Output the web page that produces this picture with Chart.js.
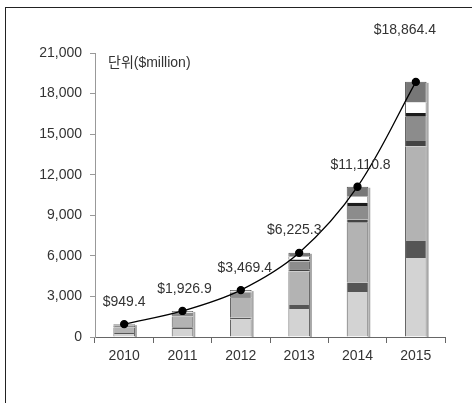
<!DOCTYPE html>
<html>
<head>
<meta charset="utf-8">
<script src="https://cdn.jsdelivr.net/npm/chart.js@4.4.1/dist/chart.umd.min.js"></script>
<style>
  html, body { margin: 0; padding: 0; background: #fff; overflow: hidden; }
  #wrap { position: relative; width: 472px; height: 403px; }
  #frame { position: absolute; left: 5px; top: 7px; width: 520px; height: 460px; border: 1px solid #222; }
  canvas { position: absolute; left: 0; top: 0; }
</style>
</head>
<body>
<div id="wrap">
  <div id="frame"></div>
  <canvas id="chart" width="472" height="403"></canvas>
</div>
<script>
const years = ['2010', '2011', '2012', '2013', '2014', '2015'];
// stacked layers, bottom to top
const layer1 = [230, 600, 1300, 2075, 3334, 5844];
const layer2 = [60, 120, 125, 296, 690, 1253];
const layer3 = [420, 770, 1450, 2495, 4420, 7000];
const layer4 = [30, 40, 60, 148, 247, 398];
const layer5 = [120, 250, 380, 593, 988, 1791];
const layer6 = [10, 20, 30, 124, 247, 273];
const layer7 = [20, 30, 40, 198, 445, 781];
const layer8 = [59, 97, 84, 296, 740, 1525];
const totals = [949.4, 1926.9, 3469.4, 6225.3, 11110.8, 18864.4];
const yTicks = [0, 3000, 6000, 9000, 12000, 15000, 18000, 21000];

const layers = [layer1, layer2, layer3, layer4, layer5, layer6, layer7, layer8];
const colors = ['#d3d3d3', '#555555', '#b3b3b3', '#444444', '#8c8c8c', '#1c1c1c', '#ffffff', '#777777'];

const FONT = '"Liberation Sans", "Noto Sans CJK KR", sans-serif';

const barSets = layers.map((d, i) => ({
    type: 'bar',
    data: d,
    backgroundColor: colors[i],
    borderColor: '#5a5a5a',
    borderWidth: i === layers.length - 1 ? { left: 1, right: 1, top: 1, bottom: 0 } : { left: 1, right: 1, top: 0, bottom: 0 },
    borderSkipped: false,
    stack: 'bars',
    order: 1,
    barPercentage: 0.37,
    categoryPercentage: 1
}));

// labels above the points
const labelDx = [0, 2, 4, -5, 3, -11];
const labelDy = [-22, -22, -22, -23, -22, -52];

// light strip on the right side of each stack, drawn after the last bar layer (before the line)
const shadowPlugin = {
    id: 'barShadow',
    afterDatasetDraw(chart, args) {
        if (args.index !== 0) return;
        const ctx = chart.ctx;
        const top = chart.getDatasetMeta(layers.length - 1).data;
        const bottom = chart.scales.y.getPixelForValue(0);
        ctx.save();
        ctx.fillStyle = '#a8a8a8';
        top.forEach(bar => {
            const right = bar.x + bar.width / 2;
            ctx.fillRect(right, bar.y + 1, 2, bottom - bar.y - 1);
        });
        ctx.restore();
    }
};

const textPlugin = {
    id: 'texts',
    afterDatasetsDraw(chart) {
        const ctx = chart.ctx;
        const area = chart.chartArea;
        ctx.save();
        ctx.fillStyle = '#333';
        ctx.font = '14px ' + FONT;
        ctx.textBaseline = 'middle';
        ctx.textAlign = 'left';
        ctx.fillText('단위($million)', area.left + 13, area.top + 10);

        const meta = chart.getDatasetMeta(chart.data.datasets.length - 1);
        ctx.textAlign = 'center';
        meta.data.forEach((pt, i) => {
            const txt = '$' + totals[i].toLocaleString('en-US', { minimumFractionDigits: 1 });
            ctx.fillText(txt, pt.x + labelDx[i], pt.y + labelDy[i]);
        });
        ctx.restore();
    }
};

new Chart(document.getElementById('chart').getContext('2d'), {
    data: {
        labels: years,
        datasets: barSets.concat([{
            type: 'line',
            data: totals,
            borderColor: '#000',
            borderWidth: 1.3,
            tension: 0.35,
            pointRadius: 3.5,
            pointBackgroundColor: '#000',
            pointBorderColor: '#000',
            stack: 'total',
            order: 0
        }])
    },
    options: {
        responsive: false,
        animation: false,
        layout: { padding: { left: 35, right: 27, top: 53, bottom: 36 } },
        plugins: { legend: { display: false }, tooltip: { enabled: false } },
        scales: {
            x: {
                stacked: true,
                offset: true,
                grid: { drawOnChartArea: false, tickLength: 6, color: '#666', offset: true },
                border: { color: '#666' },
                ticks: { color: '#333', font: { family: FONT, size: 14 }, padding: 5 },
                afterFit(s) { s.height = 30; }
            },
            y: {
                stacked: true,
                min: 0,
                max: 21000,
                afterBuildTicks(s) { s.ticks = yTicks.map(v => ({ value: v })); },
                grid: { drawOnChartArea: false, tickLength: 5, color: '#999' },
                border: { color: '#999' },
                ticks: {
                    color: '#333',
                    font: { family: FONT, size: 14 },
                    padding: 8,
                    callback: v => v.toLocaleString('en-US')
                },
                afterFit(s) { s.width = 60; }
            }
        }
    },
    plugins: [shadowPlugin, textPlugin]
});
</script>
</body>
</html>
